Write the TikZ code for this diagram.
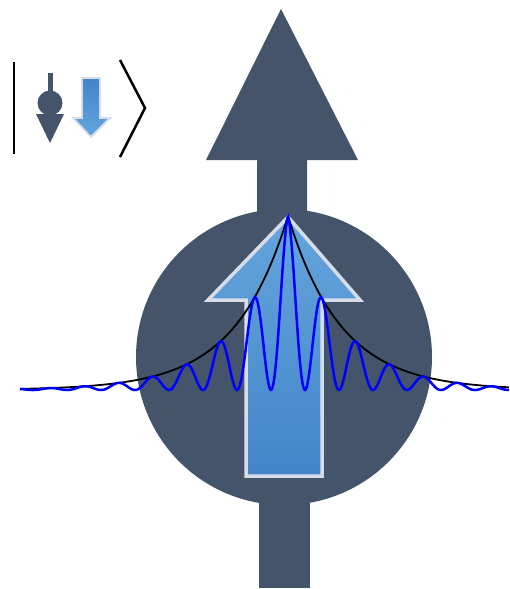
\documentclass[tikz,border=0pt]{standalone}
\usepackage{tikz}
\definecolor{slate}{HTML}{44546A}
\definecolor{rimgray}{HTML}{D6DDE8}
\definecolor{bluetop}{HTML}{65A5DD}
\definecolor{bluebot}{HTML}{4285C8}
\definecolor{wave}{HTML}{0000FF}
\tikzset{
  darkshape/.style={fill=slate, draw=none},
  spinarrow/.style={top color=bluetop, bottom color=bluebot, draw=rimgray, line width=3.5pt, line join=miter},
  smallspin/.style={top color=bluebot, bottom color=bluetop, draw=rimgray, line width=1.8pt, line join=miter},
  envelope/.style={black, line width=1.8pt},
  wavefn/.style={wave, line width=2.5pt},
  ketline/.style={black, line width=2.5pt}
}
\begin{document}
\begin{tikzpicture}[x=1pt, y=-1pt]
\useasboundingbox (0,0) rectangle (509,589);

% ket |down, down>
\draw[ketline] (14,62) -- (14,154);
\draw[ketline] (120,60) -- (145,108) -- (120,157);
\fill[slate] (48,73) rectangle (53,93);
\fill[slate] (50,103) circle (12.5);
\fill[slate] (36,114) -- (64,114) -- (50,143) -- cycle;
\draw[smallspin] (82,78) -- (100,78) -- (100,118) -- (110,118) -- (91,137) -- (73,118) -- (82,118) -- cycle;

% large spin arrow with the nucleus disc
\fill[darkshape] (281,9) -- (358,160) -- (307,160) -- (307,240) -- (257,240) -- (257,160) -- (206,160) -- cycle;
\fill[darkshape] (259,470) rectangle (310,588);
\fill[darkshape] (284,357) circle (148);

% inner blue spin arrow
\draw[spinarrow] (288,217) -- (360,300) -- (322,300) -- (322,476) -- (246,476) -- (246,300) -- (208,300) -- cycle;

% exponential envelope and the oscillating wave (period 34)
\draw[envelope] plot[domain=20:509, samples=400, smooth] (\x, {390-174*exp(-abs(\x-288)/53)});
\draw[wavefn] plot[domain=20:509, samples=900, smooth] (\x, {390-87*exp(-abs(\x-288)/53)*(1+cos(10.5882*(\x-288)))});
\end{tikzpicture}
\end{document}
